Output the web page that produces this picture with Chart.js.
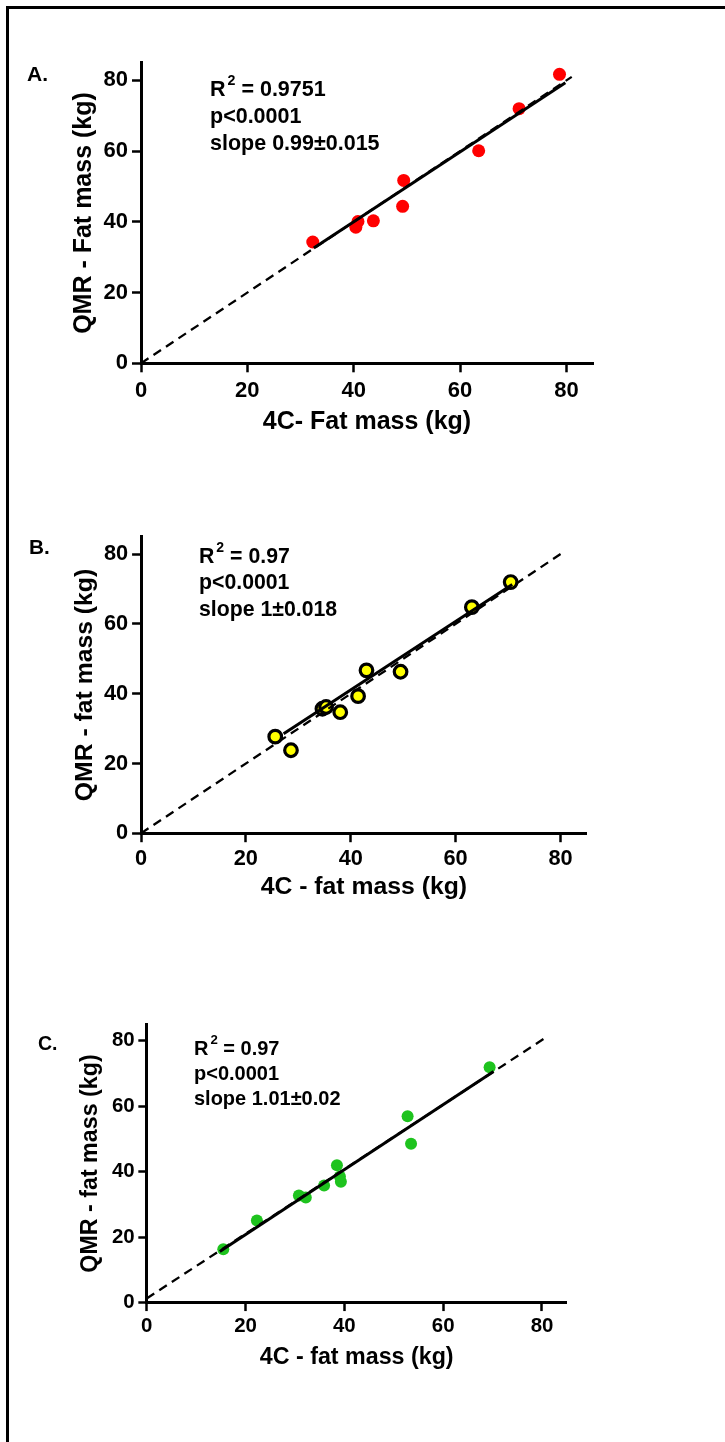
<!DOCTYPE html>
<html>
<head>
<meta charset="utf-8">
<script src="https://cdn.jsdelivr.net/npm/chart.js@4.4.1/dist/chart.umd.min.js"></script>
<style>
  html, body { margin: 0; padding: 0; background: #fff; }
  #page { position: relative; width: 725px; height: 1442px; overflow: hidden; }
  #frame { position: absolute; left: 6px; top: 6px; width: 800px; height: 1500px;
           border-left: 3px solid #000; border-top: 3px solid #000; }
  canvas { position: absolute; left: 0; }
</style>
</head>
<body>
<div id="page">
  <div id="frame"></div>
  <canvas id="panelA" width="725" height="480" style="top:0px"></canvas>
  <canvas id="panelB" width="725" height="480" style="top:480px"></canvas>
  <canvas id="panelC" width="725" height="482" style="top:960px"></canvas>
</div>
<script>
const FONT = '"Liberation Sans", Arial, sans-serif';

// axis ticks (same on both axes, all panels)
const tickValues = [0, 20, 40, 60, 80];

// Panel A - red
const fourC_A = [32.3, 40.8, 40.4, 43.7, 49.4, 49.2, 63.5, 71.1, 78.7];
const qmr_A   = [34.3, 40.1, 38.5, 40.3, 51.7, 44.4, 60.1, 72.0, 81.7];
const fitX_A = [32.5, 79.8];
const fitY_A = [32.6, 79.3];
const idX_A = [0, 81];
const idY_A = [0, 81];

// Panel B - yellow
const fourC_B = [25.6, 28.6, 34.6, 35.3, 38.0, 41.4, 43.0, 49.5, 63.1, 70.5];
const qmr_B   = [27.7, 23.8, 35.7, 36.2, 34.7, 39.3, 46.7, 46.3, 64.8, 72.0];
const fitX_B = [27.2, 70.8];
const fitY_B = [28.5, 71.3];
const idX_B = [0, 80.6];
const idY_B = [0, 80.6];

// Panel C - green
const fourC_C = [15.5, 22.3, 30.8, 32.2, 35.9, 38.5, 39.1, 39.3, 52.8, 53.5, 69.4];
const qmr_C   = [16.3, 25.1, 32.7, 32.1, 35.8, 42.0, 38.5, 36.9, 56.9, 48.5, 71.9];
const fitX_C = [14.8, 70.2];
const fitY_C = [15.6, 70.6];
const idX_C = [0, 81];
const idY_C = [1.3, 81.2];

// texts
const panelLabels = ['A.', 'B.', 'C.'];
const xTitles = ['4C- Fat mass (kg)', '4C - fat mass (kg)', '4C - fat mass (kg)'];
const yTitles = ['QMR - Fat mass (kg)', 'QMR - fat mass (kg)', 'QMR - fat mass (kg)'];
const r2Values = ['0.9751', '0.97', '0.97'];
const pValues = ['p<0.0001', 'p<0.0001', 'p<0.0001'];
const slopeTexts = ['slope 0.99\u00b10.015', 'slope 1\u00b10.018', 'slope 1.01\u00b10.02'];

function pts(xs, ys) {
  return xs.map((x, i) => ({ x: x, y: ys[i] }));
}

// draws panel letter and the R2 / p / slope block
const textPlugin = {
  id: 'panelText',
  afterDraw(chart, args, o) {
    const ctx = chart.ctx, area = chart.chartArea;
    ctx.save();
    ctx.fillStyle = '#000';
    ctx.textBaseline = 'middle';
    ctx.textAlign = 'left';
    ctx.font = 'bold ' + o.labelSize + 'px ' + FONT;
    ctx.fillText(o.label, o.labelX, o.labelY);

    const fs = o.statSize;
    const x = area.left + o.statX;
    const y = area.top + o.statY;
    ctx.font = 'bold ' + fs + 'px ' + FONT;
    ctx.fillText('R', x, y);
    const wR = ctx.measureText('R').width;
    ctx.font = 'bold ' + (fs * 0.66) + 'px ' + FONT;
    ctx.fillText('2', x + wR + 2, y - fs * 0.42);
    const w2 = ctx.measureText('2').width;
    ctx.font = 'bold ' + fs + 'px ' + FONT;
    ctx.fillText(' = ' + o.r2, x + wR + w2 + 2, y);
    ctx.fillText(o.p, x, y + o.statGap);
    ctx.fillText(o.slope, x, y + 2 * o.statGap);
    ctx.restore();
  }
};

function makePanel(id, i, p) {
  const s = p.s;
  const tickFont = { family: FONT, size: 22 * s, weight: 'bold' };
  const titleFont = { family: FONT, size: 25 * s, weight: 'bold' };
  const tl = 9 * s;
  const hx = 80 * s;
  const tickLH = tickFont.size * 1.2;
  const titleLH = titleFont.size * 1.2;

  const axisCommon = {
    type: 'linear', min: 0, max: 85,
    afterBuildTicks: sc => { sc.ticks = tickValues.map(v => ({ value: v })); },
    border: { display: true, color: '#000', width: 3 },
    grid: { display: true, drawOnChartArea: false, drawTicks: true,
            tickLength: tl, tickWidth: 2.5, tickColor: '#000' }
  };

  new Chart(document.getElementById(id), {
    type: 'scatter',
    data: {
      datasets: [
        { data: p.fit, showLine: true, borderColor: '#000', borderWidth: 3, pointRadius: 0 },
        { data: p.ident, showLine: true, borderColor: '#000', borderWidth: 2.3,
          borderDash: [9, 6], pointRadius: 0 },
        { data: p.points, backgroundColor: p.color, borderColor: p.edge,
          borderWidth: p.edgeW, pointRadius: p.r, pointHoverRadius: p.r }
      ]
    },
    options: {
      responsive: false,
      animation: false,
      devicePixelRatio: 1,
      layout: {
        padding: {
          left: 0,
          top: p.top - p.canvasTop,
          right: 725 - p.right,
          bottom: p.canvasTop + p.canvasH - hx - p.bottom
        }
      },
      plugins: {
        legend: { display: false },
        tooltip: { enabled: false },
        panelText: {
          label: panelLabels[i], labelSize: 21 * s, labelX: p.labelX, labelY: p.labelY,
          statSize: 21.5 * s, statX: p.statX, statY: p.statY, statGap: p.statGap,
          r2: r2Values[i], p: pValues[i], slope: slopeTexts[i]
        }
      },
      scales: {
        x: Object.assign({}, axisCommon, {
          position: 'bottom',
          afterFit: sc => { sc.height = hx; },
          ticks: { color: '#000', font: tickFont, maxRotation: 0,
                   padding: p.xTickOff - tl - tickLH / 2 },
          title: { display: true, text: xTitles[i], color: '#000', font: titleFont,
                   padding: { top: 0, bottom: hx - titleLH / 2 - p.xTitleOff } }
        }),
        y: Object.assign({}, axisCommon, {
          position: 'left',
          afterFit: sc => { sc.width = p.left; },
          ticks: { color: '#000', font: tickFont, padding: 4 * s },
          title: { display: true, text: yTitles[i], color: '#000', font: titleFont,
                   padding: { top: p.yTitleX - titleLH / 2, bottom: 0 } }
        })
      }
    },
    plugins: [textPlugin]
  });
}

makePanel('panelA', 0, {
  s: 1, canvasTop: 0, canvasH: 480,
  left: 141, right: 593, top: 62.7, bottom: 363.3,
  xTickOff: 27.7, xTitleOff: 58.7, yTitleX: 84,
  labelX: 27, labelY: 75,
  statX: 69, statY: 27.3, statGap: 27,
  points: pts(fourC_A, qmr_A), fit: pts(fitX_A, fitY_A), ident: pts(idX_A, idY_A),
  color: '#ff0000', edge: '#ff0000', edgeW: 0, r: 6.5
});

makePanel('panelB', 1, {
  s: 0.99, canvasTop: 480, canvasH: 480,
  left: 141, right: 586.7, top: 536.7, bottom: 833.3,
  xTickOff: 26, xTitleOff: 54, yTitleX: 85,
  labelX: 29, labelY: 68,
  statX: 58, statY: 20.3, statGap: 26.5,
  points: pts(fourC_B, qmr_B), fit: pts(fitX_B, fitY_B), ident: pts(idX_B, idY_B),
  color: '#ffff00', edge: '#000000', edgeW: 3.2, r: 6.3
});

makePanel('panelC', 2, {
  s: 0.93, canvasTop: 960, canvasH: 482,
  left: 146.7, right: 566.7, top: 1024.3, bottom: 1302.7,
  xTickOff: 23.5, xTitleOff: 55, yTitleX: 91,
  labelX: 38, labelY: 85,
  statX: 47.3, statY: 24.7, statGap: 25,
  points: pts(fourC_C, qmr_C), fit: pts(fitX_C, fitY_C), ident: pts(idX_C, idY_C),
  color: '#1ec31e', edge: '#1ec31e', edgeW: 0, r: 6
});
</script>
</body>
</html>
